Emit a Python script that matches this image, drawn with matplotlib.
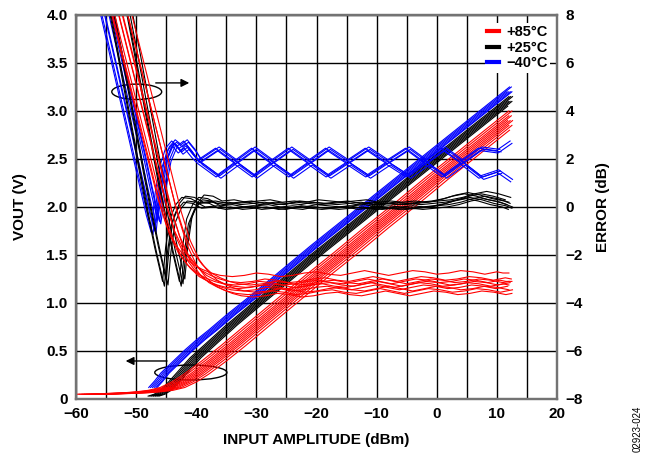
import numpy as np
import matplotlib
matplotlib.use("Agg")
import matplotlib.pyplot as plt
from matplotlib.patches import Ellipse
from matplotlib.lines import Line2D
from matplotlib.ticker import MultipleLocator, FixedLocator

plt.rcParams['font.family'] = ['Liberation Sans', 'DejaVu Sans']
plt.rcParams['font.weight'] = 'bold'

RED = '#ff0000'
BLACK = '#000000'
BLUE = '#0000ff'

# ---- VOUT (V) vs input (dBm), one base curve per temperature ----
vout_pin_85 = [-58, -56, -54, -52, -50, -48, -46, -44, -42, -40, -37, -34, -30, -25, -20,
               -15, -10, -5, 0, 5, 10, 11, 12, 13, 14, 15, 16]
vout_85 = [0.05, 0.05, 0.055, 0.06, 0.065, 0.075, 0.09, 0.12, 0.18, 0.26, 0.40, 0.55, 0.76,
           1.02, 1.28, 1.53, 1.79, 2.04, 2.30, 2.55, 2.80, 2.85, 2.90, 2.95, 3.00, 3.05, 3.10]

vout_pin_25 = [-47, -46, -45, -44, -43, -42, -40, -37, -34, -30, -25, -20, -15, -10, -5,
               0, 5, 10, 11, 12, 13, 14, 15, 16]
vout_25 = [0.03, 0.05, 0.09, 0.15, 0.22, 0.29, 0.43, 0.60, 0.77, 0.98, 1.24, 1.50, 1.75,
           2.00, 2.25, 2.50, 2.75, 3.00, 3.05, 3.10, 3.15, 3.20, 3.25, 3.30]

vout_pin_m40 = [-47.0, -46.0, -45, -43, -41, -39, -37, -34, -30, -25, -20, -15, -10, -5,
                0, 5, 10, 11, 12, 13, 14, 15, 16]
vout_m40 = [0.12, 0.19, 0.27, 0.39, 0.51, 0.62, 0.72, 0.88, 1.08, 1.34, 1.60, 1.85, 2.10,
            2.35, 2.60, 2.85, 3.10, 3.15, 3.20, 3.25, 3.30, 3.35, 3.40]

# per-device input offsets (dB)
vout_shift_85 = [-2.0, -1.5, -1.0, -0.6, -0.2, 0.2, 0.6, 1.0, 1.5, 2.1]
vout_shift_25 = [-1.0, -0.7, -0.4, -0.1, 0.2, 0.5, 0.8]
vout_shift_m40 = [-0.9, -0.6, -0.3, 0.0, 0.3, 0.5]

# ---- log conformance error (dB) ----
err_pin_85 = [-54, -52, -50, -48, -46, -44.5, -43, -41.5, -40, -38.5, -37, -35.5, -34, -32,
              -30, -28, -26, -24, -22, -20, -18, -16, -14, -12, -10, -8, -6, -4, -2, 0,
              2, 4, 6, 8, 10, 11, 12, 13, 14, 15]
err_85 = [9.5, 7.5, 5.5, 3.5, 1.5, 0.0, -1.2, -2.0, -2.5, -2.85, -3.05, -3.2, -3.3, -3.35,
          -3.3, -3.2, -3.25, -3.35, -3.3, -3.2, -3.15, -3.25, -3.3, -3.2, -3.1, -3.2, -3.3,
          -3.2, -3.1, -3.15, -3.25, -3.2, -3.1, -3.15, -3.25, -3.2, -3.15, -3.2, -3.2, -3.2]
err_dp_85 = [-2.0, -1.5, -1.0, -0.6, -0.2, 0.2, 0.6, 1.0, 1.5, 2.0]
err_de_85 = [0.45, 0.1, -0.05, 0.2, -0.15, 0.0, -0.3, 0.1, -0.4, -0.2]

err_pin_25 = [-55, -53, -51, -49, -48, -46.5, -45.2, -44.7, -44.0, -43.0, -42, -40.5, -39,
              -37, -35, -33, -31, -29, -27, -25, -23, -21, -19, -17, -15, -13, -11, -9,
              -7, -5, -3, -1, 1, 3, 5, 7, 9, 11, 12, 13, 14, 15, 16]
err_25 = [9.3, 6.7, 4.0, 1.3, 0.0, -1.8, -3.2, -1.8, -0.6, 0.0, 0.3, 0.25, 0.05, 0.1, 0.0,
          0.05, 0.1, 0.0, 0.05, 0.0, 0.1, 0.05, 0.0, 0.05, 0.1, 0.0, 0.05, 0.0, 0.05, 0.0,
          0.05, 0.1, 0.2, 0.35, 0.45, 0.35, 0.2, 0.1, 0.0, -0.1, -0.1, -0.1, -0.1]
err_dp_25 = [-0.4, -0.1, 0.2, 0.5, 2.4, 2.7, 3.0, 3.3]
err_de_25 = [0.1, -0.1, 0.15, -0.05, 0.1, -0.1, 0.0, 0.2]

err_pin_m40 = [-57, -55, -53, -51, -49, -48, -47.2, -46.5, -45.7, -44.8, -43.8, -42.8,
               -41.8, -40.5, -39.5, -36.5, -33.5, -30.5, -27.5, -24.4, -21.3, -18.2, -14.9,
               -11.6, -8.3, -4.9, -1.9, 1.1, 4.1, 7.2, 10.2, 12.5, 14, 15]
err_m40_a = [9.5, 7.3, 5.1, 2.9, 0.7, -0.4, -1.1, 0.6, 1.7, 2.4, 2.7, 2.5, 2.7, 2.3, 1.9,
             2.4, 1.85, 2.4, 1.85, 2.4, 1.85, 2.4, 1.85, 2.4, 1.85, 2.4, 1.85, 2.4, 1.85,
             2.4, 2.3, 2.7, 2.8, 2.8]
err_m40_b = [11.0, 8.8, 6.6, 4.4, 2.2, 1.0, 0.1, -0.6, 0.8, 2.0, 2.6, 2.3, 2.5, 2.1, 1.85,
             1.3, 1.85, 1.3, 1.85, 1.3, 1.85, 1.3, 1.85, 1.3, 1.85, 1.3, 1.85, 1.3, 1.85,
             1.25, 1.5, 1.1, 1.0, 1.0]
err_dp_m40_a = [-0.3, 0.0, 0.3, 0.5]
err_de_m40_a = [0.05, -0.05, 0.1, 0.0]
err_dp_m40_b = [-0.2, 0.1, 0.4, 0.6]
err_de_m40_b = [-0.05, 0.05, 0.0, -0.1]

x_ticks = [-60, -50, -40, -30, -20, -10, 0, 10, 20]
vout_ticks = [0, 0.5, 1.0, 1.5, 2.0, 2.5, 3.0, 3.5, 4.0]
vout_tick_labels = ['0', '0.5', '1.0', '1.5', '2.0', '2.5', '3.0', '3.5', '4.0']
err_ticks = [-8, -6, -4, -2, 0, 2, 4, 6, 8]
legend_labels = ['+85°C', '+25°C', '\u221240°C']

PIN_END = 12.6


def shifted(pin, val, dp, dv=0.0):
    p = np.asarray(pin, dtype=float) + dp
    v = np.asarray(val, dtype=float) + dv
    keep = p <= PIN_END
    return p[keep], v[keep]


fig = plt.figure(figsize=(6.54, 4.57), dpi=100)
ax = fig.add_axes([76 / 654, 58 / 457, 481 / 654, 384 / 457])
ax2 = ax.twinx()
ax2.patch.set_visible(False)

lw = 0.8

# VOUT curves (left axis)
for dp in vout_shift_m40:
    ax.plot(*shifted(vout_pin_m40, vout_m40, dp), color=BLUE, lw=lw)
for dp in vout_shift_25:
    ax.plot(*shifted(vout_pin_25, vout_25, dp), color=BLACK, lw=lw)
for dp in vout_shift_85:
    ax.plot(*shifted(vout_pin_85, vout_85, dp), color=RED, lw=lw)

# error curves (right axis)
for dp, de in zip(err_dp_m40_a, err_de_m40_a):
    ax2.plot(*shifted(err_pin_m40, err_m40_a, dp, de), color=BLUE, lw=lw)
for dp, de in zip(err_dp_m40_b, err_de_m40_b):
    ax2.plot(*shifted(err_pin_m40, err_m40_b, dp, de), color=BLUE, lw=lw)
for dp, de in zip(err_dp_25, err_de_25):
    ax2.plot(*shifted(err_pin_25, err_25, dp, de), color=BLACK, lw=lw)
for dp, de in zip(err_dp_85, err_de_85):
    ax2.plot(*shifted(err_pin_85, err_85, dp, de), color=RED, lw=lw)

# axes limits and grid
ax.set_xlim(-60, 20)
ax.set_ylim(0, 4)
ax2.set_ylim(-8, 8)
ax.xaxis.set_major_locator(FixedLocator(x_ticks))
ax.xaxis.set_minor_locator(MultipleLocator(5))
ax.set_yticks(vout_ticks)
ax.set_yticklabels(vout_tick_labels)
ax2.set_yticks(err_ticks)
ax.grid(True, which='both', color='black', lw=1.0)
ax.set_axisbelow(True)

for a in (ax, ax2):
    a.tick_params(which='both', length=0, labelsize=11, pad=6)
    for s in a.spines.values():
        s.set_color('0.45')
        s.set_linewidth(1.6)

ax.set_xlabel('INPUT AMPLITUDE (dBm)', fontsize=11, fontweight='bold')
ax.xaxis.set_label_coords(0.5, -0.088)
ax.set_ylabel('VOUT (V)', fontsize=11, fontweight='bold')
ax.yaxis.set_label_coords(-0.102, 0.5)
ax2.set_ylabel('ERROR (dB)', fontsize=11, fontweight='bold')
ax2.yaxis.set_label_coords(1.081, 0.5)

# markers pointing each bundle to its axis
ax2.add_patch(Ellipse((-49.9, 4.8), 8.3, 0.64, fill=False, color='black', lw=1.0))
ax2.annotate('', xy=(-40.7, 5.17), xytext=(-47.2, 5.17),
             arrowprops=dict(arrowstyle='-|>', color='black', lw=1.0, mutation_scale=12))
ax.add_patch(Ellipse((-40.9, 0.276), 12.0, 0.156, fill=False, color='black', lw=1.0))
ax.annotate('', xy=(-52.2, 0.396), xytext=(-44.4, 0.396),
            arrowprops=dict(arrowstyle='-|>', color='black', lw=1.0, mutation_scale=12))

handles = [Line2D([0], [0], color=c, lw=3) for c in (RED, BLACK, BLUE)]
leg = ax2.legend(handles, legend_labels, loc='upper right', bbox_to_anchor=(0.985, 0.98),
                 fontsize=10.5, handlelength=0.8, handletextpad=0.5, labelspacing=0.12,
                 borderpad=0.15, borderaxespad=0.0, frameon=True, fancybox=False)
leg.get_frame().set_facecolor('white')
leg.get_frame().set_edgecolor('none')
leg.get_frame().set_alpha(1.0)

fig.text(638 / 654, 28 / 457, '02923-024', rotation=90, fontsize=7,
         ha='center', va='center', fontweight='normal')

fig.savefig('out.png', dpi=100)
